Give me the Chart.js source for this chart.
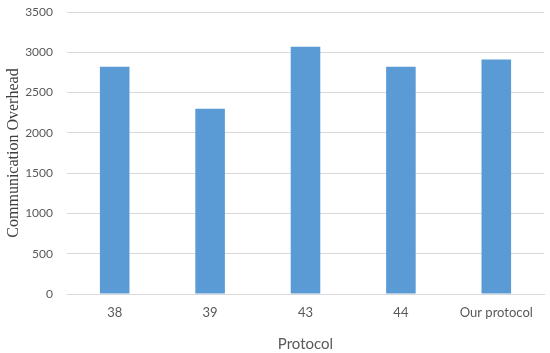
<!DOCTYPE html>
<html>
<head>
<meta charset="utf-8">
<script src="https://cdn.jsdelivr.net/npm/chart.js@4/dist/chart.umd.min.js"></script>
<style>
html,body{margin:0;padding:0;background:#fff;}
#wrap{width:550px;height:353px;position:relative;}
</style>
</head>
<body>
<div id="wrap"><canvas id="c" width="550" height="353"></canvas></div>
<script>
const categories = ["38", "39", "43", "44", "Our protocol"];
const overhead = [2820, 2300, 3070, 2820, 2910];
const yTicks = [0, 500, 1000, 1500, 2000, 2500, 3000, 3500];

const ctx = document.getElementById('c').getContext('2d');
new Chart(ctx, {
  type: 'bar',
  data: {
    labels: categories,
    datasets: [{
      label: 'Communication Overhead',
      data: overhead,
      backgroundColor: '#5B9BD5',
      borderWidth: 0,
      barPercentage: 0.62,
      categoryPercentage: 0.5
    }]
  },
  options: {
    responsive: false,
    animation: false,
    devicePixelRatio: 1,
    layout: { padding: { left: 4, right: 6, top: 12, bottom: 0 } },
    plugins: { legend: { display: false }, tooltip: { enabled: false } },
    scales: {
      x: {
        grid: { display: false, drawTicks: false },
        border: { display: true, color: '#D9D9D9', width: 1 },
        ticks: { color: '#595959', font: { family: 'Lato', size: 13 }, padding: 11 },
        title: { display: true, text: 'Protocol', color: '#595959', font: { family: 'Lato', size: 15 }, padding: { top: 6, bottom: 0 } },
        afterFit: (s) => { s.height = 59; s.paddingLeft = 0; s.paddingRight = 0; }
      },
      y: {
        min: 0, max: 3500,
        afterBuildTicks: (s) => { s.ticks = yTicks.map(v => ({ value: v })); },
        grid: { color: '#D9D9D9', lineWidth: 1, drawTicks: false },
        border: { display: false },
        ticks: { color: '#595959', font: { family: 'Lato', size: 12 }, padding: 14, callback: (v) => String(v) },
        title: { display: true, text: 'Communication Overhead', color: '#404040', font: { family: 'Liberation Serif', size: 16 }, padding: { top: 0, bottom: 2 } },
        afterFit: (s) => { s.width = 63; s.paddingTop = 0; s.paddingBottom = 0; }
      }
    }
  }
});
</script>
</body>
</html>
